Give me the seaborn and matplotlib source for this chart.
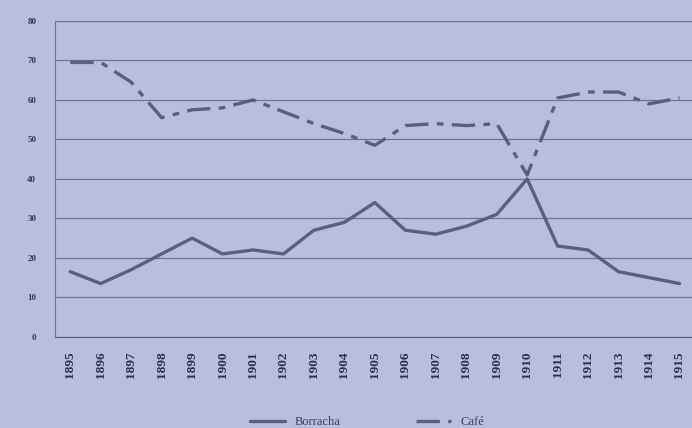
import pandas as pd
import seaborn as sns
import matplotlib.pyplot as plt

# data (share of exports, %)
years = list(range(1895, 1916))
borracha = [16.5, 13.5, 17, 21, 25, 21, 22, 21, 27, 29, 34, 27, 26, 28, 31, 40, 23, 22, 16.5, 15, 13.5]
cafe = [69.5, 69.5, 64.5, 55.5, 57.5, 58, 60, 57, 54, 51.5, 48.5, 53.5, 54, 53.5, 54, 41, 60.5, 62, 62, 59, 60.5]
yticks = [0, 10, 20, 30, 40, 50, 60, 70, 80]

df = pd.DataFrame({'ano': years, 'Borracha': borracha, 'Café': cafe})

bg = '#b9bedd'
ink = '#5b5f7e'

sns.set_style('white')
plt.rcParams['font.family'] = ['Liberation Serif', 'DejaVu Serif']

fig = plt.figure(figsize=(6.92, 4.28), dpi=100, facecolor=bg)
ax = fig.add_axes([0.0795, 0.213, 0.92, 0.738])
ax.set_facecolor(bg)

sns.lineplot(x='ano', y='Borracha', data=df, ax=ax, color=ink, lw=2.4, label='Borracha')
sns.lineplot(x='ano', y='Café', data=df, ax=ax, color=ink, lw=2.4, label='Café',
             linestyle=(0, (7, 2.5, 2, 2.5)))

ax.set_xlim(1894.5, 1915.4)
ax.set_ylim(0, 80)
ax.set_yticks(yticks)
ax.set_yticklabels([str(v) for v in yticks], fontsize=6.5, color='#33364e', fontweight='bold')
ax.set_xticks(years)
ax.set_xticklabels([str(y) for y in years], rotation=90, fontsize=9.5,
                   color='#2e3048', fontweight='bold')
ax.set_xlabel('')
ax.set_ylabel('')

ax.grid(axis='y', color='#6f7398', lw=0.9)
ax.grid(axis='x', visible=False)
for s in ['top', 'right']:
    ax.spines[s].set_visible(False)
ax.spines['left'].set_color('#6f7398')
ax.spines['bottom'].set_color('#5b5f7e')
ax.tick_params(axis='y', length=3, color='#5b5f7e', direction='inout', pad=12)
ax.tick_params(axis='x', length=3, color='#5b5f7e', direction='inout', pad=9)

ax.legend(loc='upper center', bbox_to_anchor=(0.49, -0.215), ncol=2, frameon=False,
          fontsize=9, handlelength=2.8, columnspacing=6, labelcolor='#3a3d55')

fig.savefig('out.png', dpi=100, facecolor=bg)
